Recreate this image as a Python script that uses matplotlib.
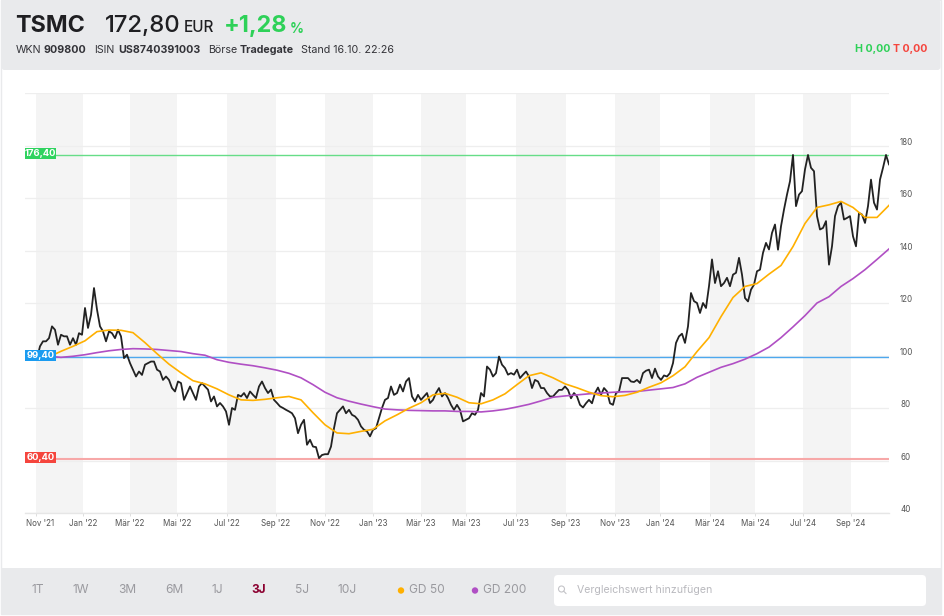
#!/usr/bin/env python3

import matplotlib
matplotlib.use("Agg")
import matplotlib.pyplot as plt
import matplotlib.transforms as mtransforms
import numpy as np
from matplotlib.patches import Circle, FancyBboxPatch, Rectangle

plt.rcParams["font.family"] = ["Inter", "DejaVu Sans"]

# closing prices in EUR, one sample per chart step
price = [
    98.9, 103.5, 105.4, 105.4, 106.6, 111.1, 109.8, 104.1, 107.9, 107.3, 107.3, 104.1,
    106.6, 104.1, 108.5, 107.9, 118.1, 110.5, 115.5, 125.7, 117.5, 111.1, 109.2, 105.4,
    109.2, 108.5, 106.6, 109.8, 107.3, 99.0, 100.3, 97.1, 94.6, 92.0, 93.9, 92.6,
    96.5, 97.1, 97.7, 97.7, 94.6, 93.9, 90.7, 92.0, 90.7, 87.6, 86.3, 90.1,
    89.5, 83.1, 85.7, 88.2, 85.7, 83.1, 88.2, 89.5, 88.2, 87.0, 82.5, 84.4,
    80.6, 81.9, 80.6, 78.7, 73.6, 80.0, 79.3, 85.0, 84.4, 85.7, 83.8, 86.3,
    85.0, 83.8, 88.2, 90.1, 87.6, 85.7, 87.0, 83.1, 81.9, 80.6, 80.0, 79.3,
    78.7, 78.0, 76.1, 70.4, 73.6, 75.5, 66.0, 67.9, 65.3, 65.1, 60.9, 62.1,
    62.4, 62.4, 65.3, 72.3, 78.0, 79.3, 80.6, 78.0, 79.3, 77.4, 76.8, 75.5,
    73.0, 71.7, 71.1, 69.2, 71.7, 72.3, 76.1, 80.0, 83.1, 83.8, 88.2, 85.0,
    85.7, 88.9, 86.3, 90.1, 91.4, 84.4, 82.5, 85.0, 83.1, 84.4, 85.7, 81.9,
    83.1, 85.7, 87.6, 84.4, 85.7, 83.8, 81.2, 79.3, 81.2, 79.3, 74.9, 75.5,
    76.1, 78.0, 77.4, 79.3, 85.7, 84.4, 95.8, 94.6, 92.0, 93.3, 99.6, 96.5,
    95.2, 92.7, 93.3, 92.7, 94.6, 91.4, 92.7, 93.9, 92.0, 87.6, 90.7, 90.1,
    87.6, 87.6, 85.7, 84.4, 84.4, 85.7, 86.9, 86.9, 88.2, 86.9, 83.7, 85.7,
    84.4, 81.2, 80.2, 81.8, 83.1, 81.8, 85.7, 87.8, 85.0, 87.6, 86.3, 81.8,
    81.2, 85.7, 86.3, 91.4, 91.4, 91.4, 90.1, 89.9, 90.7, 89.5, 93.3, 94.2,
    94.6, 91.4, 95.0, 92.0, 90.7, 92.4, 92.0, 93.3, 97.1, 104.8, 107.3, 108.3,
    104.8, 111.1, 123.8, 120.7, 120.0, 116.2, 120.0, 118.1, 126.4, 136.6, 127.6, 132.1,
    126.4, 127.6, 129.6, 126.4, 130.8, 131.5, 137.2, 130.8, 121.9, 120.6, 125.1, 127.0,
    132.1, 132.7, 139.1, 142.9, 140.4, 146.7, 149.9, 140.3, 149.2, 155.6, 161.3, 166.4,
    176.4, 156.9, 161.3, 162.6, 170.9, 176.4, 171.5, 170.2, 153.1, 148.0, 148.6, 151.2,
    134.6, 141.6, 153.1, 156.9, 158.2, 151.8, 152.4, 153.1, 145.4, 141.6, 154.3, 153.7,
    150.5, 156.9, 167.0, 158.2, 155.6, 167.0, 171.5, 176.4, 172.8,
]

# moving averages, one value per 4 price samples starting at sample 4
gd50 = [
    99.5, 101.6, 103.5, 105.6, 109.1, 109.7, 109.6, 108.7, 104.9, 100.7, 96.7, 93.4,
    90.4, 89.2, 87.3, 85.0, 83.1, 82.9, 83.3, 83.9, 84.4, 83.1, 78.2, 73.6,
    70.5, 70.2, 71.1, 71.9, 75.1, 77.4, 79.9, 82.0, 85.0, 85.6, 84.1, 82.0,
    81.6, 83.1, 85.4, 88.9, 92.3, 93.4, 91.5, 89.2, 87.7, 86.0, 84.7, 84.3,
    84.8, 86.0, 87.9, 89.6, 92.3, 95.7, 101.5, 106.8, 114.8, 122.1, 126.3, 127.4,
    131.0, 134.3, 141.5, 150.3, 156.4, 157.4, 158.7, 156.4, 152.6, 152.6, 157.2,
]
gd200 = [
    99.7, 99.3, 99.7, 100.3, 101.1, 101.8, 102.3, 102.6, 102.5, 102.3, 101.9, 101.5,
    100.7, 100.1, 98.4, 97.4, 96.7, 96.1, 95.3, 94.4, 93.2, 91.5, 88.9, 86.0,
    83.9, 82.6, 81.5, 80.5, 79.6, 79.3, 79.1, 79.0, 78.9, 78.9, 78.7, 78.7,
    78.5, 78.9, 79.5, 80.4, 81.4, 82.7, 84.1, 84.6, 85.0, 85.4, 85.7, 86.0,
    86.2, 86.3, 86.8, 87.3, 87.8, 89.2, 91.7, 93.6, 95.5, 96.9, 98.6, 100.7,
    103.2, 106.8, 110.9, 115.2, 120.0, 122.4, 126.3, 129.3, 132.7, 136.6, 140.6,
]

# sample number where each month starts
month_ticks = [
    -0.33, 15.33, 31, 46.67, 63.33, 79.67, 96, 112, 128,
    143, 159.67, 176.33, 192.67, 207.67, 224.33, 239.33, 255.33, 271.33,
]
month_labels = [
    "Nov '21", "Jan '22", "Mär '22", "Mai '22", "Jul '22", "Sep '22",
    "Nov '22", "Jan '23", "Mär '23", "Mai '23", "Jul '23", "Sep '23",
    "Nov '23", "Jan '24", "Mär '24", "Mai '24", "Jul '24", "Sep '24",
]
price_ticks = [40, 60, 80, 100, 120, 140, 160, 180, 200]

# level, label, line colour, box colour
levels = [
    (176.4, "176,40", "#66dd88", "#2fd35f"),
    (99.4, "99,40", "#4da8ee", "#1a9bf0"),
    (60.4, "60,40", "#f7a8a8", "#f5453d"),
]

ranges = ["1T", "1W", "3M", "6M", "1J", "3J", "5J", "10J"]
range_pos = [38, 81, 127, 174, 217, 259, 302, 347]

GREY_BAR = "#e9eaec"
GREEN = "#2ed158"
RED = "#f5453d"
ORANGE = "#ffb000"
PURPLE = "#b04fc4"


def draw_page(bg):
    bg.add_patch(Rectangle((1, 0), 940, 614, fc="white", ec=GREY_BAR, lw=1))
    bg.add_patch(FancyBboxPatch((1.5, 0), 939, 70, boxstyle="round,pad=0,rounding_size=3",
                                fc=GREY_BAR, ec="none"))
    bg.add_patch(Rectangle((1.5, 568), 939, 46, fc=GREY_BAR, ec="none"))

    dark = "#1f1f22"
    bg.text(15, 26, "TSMC", fontsize=16.8, fontweight="bold", color=dark, va="center")
    bg.text(105, 26, "172,80", fontsize=17.2, fontweight="medium", color=dark, va="center")
    bg.text(184, 28, "EUR", fontsize=11, fontweight="medium", color=dark, va="center")
    bg.text(224, 26, "+1,28", fontsize=16.8, fontweight="bold", color=GREEN, va="center")
    bg.text(290, 29, "%", fontsize=10, fontweight="bold", color=GREEN, va="center")

    runs = [
        (16, "WKN", "normal"), (44, "909800", "bold"), (94, "ISIN", "normal"),
        (118, "US8740391003", "bold"), (208, "Börse", "normal"), (240, "Tradegate", "bold"),
        (301, "Stand 16.10. 22:26", "normal"),
    ]
    for x, label, weight in runs:
        bg.text(x, 50, label, fontsize=7.7, fontweight=weight, color="#333338", va="center")
    bg.text(855, 49, "H 0,00", fontsize=7.6, fontweight="bold", color=GREEN, va="center")
    bg.text(893, 49, "T 0,00", fontsize=7.6, fontweight="bold", color=RED, va="center")

    for x, label in zip(range_pos, ranges):
        active = label == "3J"
        bg.text(x, 590, label, fontsize=8.6, ha="center", va="center",
                fontweight="bold" if active else "normal",
                color="#8b0030" if active else "#9a9a9f")

    bg.add_patch(Circle((401, 590.5), 3.2, fc=ORANGE, ec="none"))
    bg.text(409, 590, "GD 50", fontsize=8.6, color="#9a9a9f", va="center")
    bg.add_patch(Circle((475, 590.5), 3.2, fc=PURPLE, ec="none"))
    bg.text(483, 590, "GD 200", fontsize=8.6, color="#9a9a9f", va="center")

    bg.add_patch(FancyBboxPatch((554, 575), 372, 31, boxstyle="round,pad=0,rounding_size=4",
                                fc="white", ec="none"))
    bg.add_patch(Circle((561.5, 589), 3, fc="none", ec="#c4c4c8", lw=0.8))
    bg.plot([563.7, 566], [591.2, 593.5], color="#c4c4c8", lw=0.8)
    bg.text(577, 590, "Vergleichswert hinzufügen", fontsize=7.6, color="#b9b9be", va="center")


def main():
    fig = plt.figure(figsize=(9.44, 6.16), dpi=100, facecolor="white")

    bg = fig.add_axes([0, 0, 1, 1], zorder=0)
    bg.set_xlim(0, 944)
    bg.set_ylim(616, 0)
    bg.axis("off")
    draw_page(bg)

    ax = fig.add_axes([25 / 944, 103 / 616, 864 / 944, 420 / 616], zorder=1)
    ax.patch.set_alpha(0)
    ax.set_xlim(-4, 284)
    ax.set_ylim(40, 200)
    for side in ["top", "right", "left"]:
        ax.spines[side].set_visible(False)
    ax.spines["bottom"].set_color("#e6e6e6")
    ax.spines["bottom"].set_linewidth(1.0)

    for start, end in zip(month_ticks[0::2], month_ticks[1::2]):
        ax.axvspan(start, end, color="#f4f4f4", lw=0, zorder=0)

    ax.set_yticks(price_ticks)
    ax.set_yticklabels([str(p) if p < 200 else "" for p in price_ticks])
    ax.yaxis.tick_right()
    ax.grid(axis="y", color="#eeeeee", lw=0.9, zorder=1)
    ax.tick_params(axis="y", length=0, pad=12.2, labelsize=5.8, labelcolor="#555555")
    up = mtransforms.ScaledTranslation(0, 4.3 / 100, fig.dpi_scale_trans)
    for label in ax.get_yticklabels():
        label.set_horizontalalignment("center")
        label.set_transform(label.get_transform() + up)

    ax.set_xticks(month_ticks)
    ax.set_xticklabels(month_labels)
    ax.tick_params(axis="x", length=2.2, width=0.7, color="#dddddd", pad=2.4,
                   labelsize=5.8, labelcolor="#555555")
    first = ax.get_xticklabels()[0]
    first.set_transform(first.get_transform()
                        + mtransforms.ScaledTranslation(4 / 100, 0, fig.dpi_scale_trans))

    for level, label, line_color, box_color in levels:
        ax.axhline(level, color=line_color, lw=1.5 if level < 70 else 1.0, zorder=2)
        ax.add_patch(Rectangle((-4, level - 1.4), 10.4, 4.2, fc=box_color, ec="none", zorder=6))
        ax.text(1.2, level + 0.65, label, fontsize=6.8, fontweight="bold", color="white",
                ha="center", va="center", zorder=7)

    ax.plot(np.arange(len(price)), price, color="#222222", lw=1.3, zorder=3)
    gd_x = 4 + 4 * np.arange(len(gd50))
    ax.plot(gd_x, gd200, color=PURPLE, lw=1.2, zorder=4)
    ax.plot(gd_x, gd50, color=ORANGE, lw=1.2, zorder=5)

    fig.savefig("out.png", dpi=100)
    plt.close(fig)


if __name__ == "__main__":
    main()
